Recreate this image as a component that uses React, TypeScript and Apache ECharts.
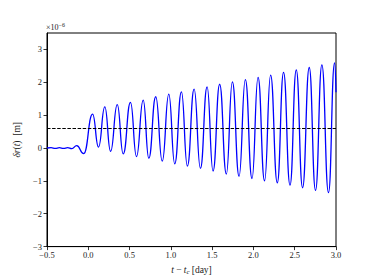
import React, { useEffect, useRef } from 'react';
import * as echarts from 'echarts';

// values of δr(t) in units of 1e-6 m
const yTickValues = [-3, -2, -1, 0, 1, 2, 3];
const preTimes = [-0.5, -0.45, -0.4, -0.35, -0.3, -0.25, -0.2, -0.14, -0.055];
const preValues = [0.0, 0.01, -0.01, 0.01, -0.01, 0.01, -0.02, 0.07, -0.17];
const peakTimes = [0.052, 0.2, 0.351, 0.511, 0.665, 0.817, 0.975, 1.128, 1.282, 1.439, 1.591, 1.745, 1.902, 2.056, 2.208, 2.365, 2.519, 2.676, 2.829, 2.983];
const peakValues = [1.03, 1.25, 1.32, 1.39, 1.46, 1.56, 1.64, 1.71, 1.79, 1.86, 1.94, 2.01, 2.08, 2.15, 2.22, 2.3, 2.38, 2.45, 2.53, 2.59];
const troughTimes = [0.124, 0.27, 0.423, 0.584, 0.733, 0.896, 1.047, 1.2, 1.358, 1.511, 1.672, 1.826, 1.983, 2.135, 2.289, 2.443, 2.595, 2.752, 2.909];
const troughValues = [0.03, -0.1, -0.18, -0.26, -0.31, -0.4, -0.48, -0.55, -0.62, -0.7, -0.79, -0.86, -0.93, -1.0, -1.06, -1.13, -1.21, -1.29, -1.36];
const endTime = 3.0;
const endValue = 1.7;
const dashedLevel = 0.6;

const FONT = '"Liberation Serif", "DejaVu Serif", serif';

function buildSeries(): [number, number][] {
  const pts: [number, number][] = [];
  preTimes.forEach((t, i) => pts.push([t, preValues[i]]));
  peakTimes.forEach((t, i) => pts.push([t, peakValues[i]]));
  troughTimes.forEach((t, i) => pts.push([t, troughValues[i]]));
  pts.push([endTime, endValue]);
  pts.sort((a, b) => a[0] - b[0]);
  return pts;
}

const fmt = (v: number) => v.toFixed(1).replace('-', '\u2212');

export default function App() {
  const ref = useRef<HTMLDivElement>(null);
  useEffect(() => {
    if (!ref.current) return;
    const chart = echarts.init(ref.current, undefined, { renderer: 'svg' });
    chart.setOption({
      animation: false,
      backgroundColor: '#ffffff',
      grid: {
        left: 47,
        right: 38,
        top: 33,
        bottom: 31,
        show: true,
        borderColor: '#000',
        borderWidth: 1,
        backgroundColor: 'transparent',
      },
      xAxis: {
        type: 'value',
        min: -0.5,
        max: 3.0,
        interval: 0.5,
        splitLine: { show: false },
        axisLine: { show: true, onZero: false, lineStyle: { color: '#000', width: 1 } },
        axisTick: { show: true, inside: false, length: 3.5, lineStyle: { color: '#000', width: 0.8 } },
        axisLabel: { formatter: (v: number) => fmt(v), fontFamily: FONT, fontSize: 8.5, color: '#222', margin: 4 },
        name: '{i|t} {n|\u2212} {i|t}{s|c} {n|[day]}',
        nameLocation: 'middle',
        nameGap: 17,
        nameTextStyle: {
          fontFamily: FONT,
          fontSize: 9,
          color: '#222',
          rich: {
            i: { fontFamily: FONT, fontSize: 9.5, fontStyle: 'italic', color: '#222' },
            n: { fontFamily: FONT, fontSize: 9.5, color: '#222' },
            s: { fontFamily: FONT, fontSize: 7, fontStyle: 'italic', color: '#222', padding: [4, 0, 0, 0] },
          },
        },
      },
      yAxis: {
        type: 'value',
        min: -3,
        max: 3.5,
        splitLine: { show: false },
        axisLine: { show: true, onZero: false, lineStyle: { color: '#000', width: 1 } },
        axisTick: { show: true, inside: false, length: 3.5, customValues: yTickValues, lineStyle: { color: '#000', width: 0.8 } },
        axisLabel: {
          customValues: yTickValues,
          formatter: (v: number) => String(v).replace('-', '\u2212'),
          fontFamily: FONT,
          fontSize: 8.5,
          color: '#222',
          margin: 5,
        },
        name: '{i|\u03b4r}{n|(}{i|t}{n|)  [m]}',
        nameLocation: 'middle',
        nameGap: 22,
        nameRotate: 90,
        nameTextStyle: {
          fontFamily: FONT,
          fontSize: 9.5,
          color: '#222',
          rich: {
            i: { fontFamily: FONT, fontSize: 9.5, fontStyle: 'italic', color: '#222' },
            n: { fontFamily: FONT, fontSize: 9.5, color: '#222' },
          },
        },
      },
      graphic: [
        {
          type: 'text',
          left: 46,
          top: 22,
          style: {
            text: '{a|\u00d710}{b|\u22126}',
            fontFamily: FONT,
            rich: {
              a: { fontFamily: FONT, fontSize: 8, fill: '#222' },
              b: { fontFamily: FONT, fontSize: 6, fill: '#222', padding: [0, 0, 4, 0] },
            },
          },
        },
      ],
      series: [
        {
          type: 'line',
          data: buildSeries(),
          showSymbol: false,
          smooth: 0.5,
          smoothMonotone: 'x',
          lineStyle: { color: '#0000ff', width: 1.3 },
          itemStyle: { color: '#0000ff' },
          z: 2,
          markLine: {
            silent: true,
            symbol: 'none',
            label: { show: false },
            lineStyle: { color: '#000', type: [3.5, 1.6], width: 1 },
            data: [{ yAxis: dashedLevel }],
          },
        },
      ],
    });
    return () => chart.dispose();
  }, []);
  return (
    <div
      ref={ref}
      style={{ position: 'fixed', left: 0, top: 0, width: 374, height: 280 }}
    />
  );
}
